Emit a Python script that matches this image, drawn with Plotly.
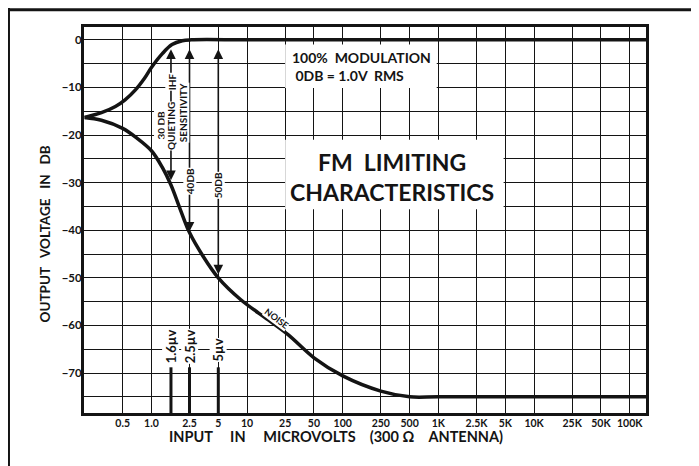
import math
import plotly.graph_objects as go

# ---------------- data ----------------
x_tick_vals = [0.5, 1.0, 2.5, 5, 10, 25, 50, 100, 250, 500, 1000, 2500, 5000,
               10000, 25000, 50000, 100000]
x_tick_text = ["0.5", "1.0", "2.5", "5", "10", "25", "50", "100", "250", "500",
               "1K", "2.5K", "5K", "10K", "25K", "50K", "100K"]
y_grid_vals = list(range(-75, 1, 5))
y_tick_text = ["0" if v == 0 else ("\u2212" + str(-v) if v % 10 == 0 else "")
               for v in y_grid_vals]

signal_uv = [0.2, 0.3, 0.42, 0.53, 0.68, 0.85, 1.0, 1.3, 1.64, 2.1, 2.6, 10,
             100, 1000, 10000, 100000, 150000]
signal_db = [-16.3, -15.3, -14.0, -12.6, -10.5, -8.0, -5.8, -2.9, -1.0, -0.2,
             0.0, 0.0, 0.0, 0.0, 0.0, 0.0, 0.0]

noise_uv = [0.2, 0.3, 0.5, 0.7, 1.0, 1.3, 1.6, 2.0, 2.5, 3.4, 5, 8.6, 16.5,
            27, 50, 100, 250, 500, 1000, 10000, 100000, 150000]
noise_db = [-16.3, -16.9, -18.6, -20.6, -23.3, -26.8, -30.5, -35.6, -40.5,
            -45.2, -50.0, -54.6, -58.8, -62.0, -66.8, -70.6, -73.8, -75.0,
            -75.0, -75.0, -75.0, -75.0]

marker_uv = [1.6, 2.5, 5]
marker_labels = ["1.6\u00b5v", "2.5\u00b5v", "5\u00b5v"]
marker_top_db = -68.8

quieting_uv = [1.6, 2.5, 5]
quieting_db = [-30, -40, -50]

# ---------------- figure ----------------
FONT = "Lato, 'DejaVu Sans', Arial, sans-serif"
INK = "#141414"
XR = [-0.705, 5.17]
YR = [-78.4, 2.7]
NB = "\u00a0"

fig = go.Figure()

fig.add_trace(go.Scatter(x=signal_uv, y=signal_db, mode="lines",
                         line=dict(color=INK, width=3.5, shape="spline", smoothing=1.0),
                         hoverinfo="skip", showlegend=False))
fig.add_trace(go.Scatter(x=noise_uv, y=noise_db, mode="lines",
                         line=dict(color=INK, width=3.5, shape="spline", smoothing=1.0),
                         hoverinfo="skip", showlegend=False))

bx, by = [], []
for u in marker_uv:
    bx += [u, u, None]
    by += [YR[0], marker_top_db, None]
fig.add_trace(go.Scatter(x=bx, y=by, mode="lines", line=dict(color=INK, width=3),
                         hoverinfo="skip", showlegend=False))

shapes = []
# white label boxes
shapes.append(dict(type="rect", xref="x", yref="y", x0=25, x1=960, y0=-1.0, y1=-10.1,
                   fillcolor="white", line=dict(width=0), layer="above"))
shapes.append(dict(type="rect", xref="x", yref="y", x0=25, x1=4800, y0=-21.0, y1=-35.6,
                   fillcolor="white", line=dict(width=0), layer="above"))
# page decorations (scan frame)
shapes.append(dict(type="line", xref="paper", yref="paper", x0=-0.14, x1=1.1,
                   y0=1.045, y1=1.045, line=dict(color=INK, width=3)))
shapes.append(dict(type="line", xref="paper", yref="paper", x0=-0.1335, x1=-0.1335,
                   y0=1.05, y1=-0.14, line=dict(color=INK, width=2)))
shapes.append(dict(type="line", xref="paper", yref="paper", x0=1.087, x1=1.087,
                   y0=1.04, y1=-0.14, line=dict(color="#e4e4e4", width=1)))

ann = []
# double-headed quieting arrows
arrow_tip_offset = [0.2, -0.6, 0.4]
for u, d, off in zip(quieting_uv, quieting_db, arrow_tip_offset):
    lx = math.log10(u)
    ann.append(dict(x=lx, y=-2.0, ax=lx, ay=d + off, xref="x", yref="y",
                    axref="x", ayref="y", text="", showarrow=True,
                    arrowhead=2, arrowside="end+start", arrowsize=1.2,
                    arrowwidth=1.6, arrowcolor=INK))

def rot_label(text, lx, y, size=10):
    return dict(x=lx, y=y, xref="x", yref="y", text="<b>" + text + "</b>",
                showarrow=False, textangle=-90, bgcolor="white", borderpad=0,
                font=dict(family=FONT, size=size, color=INK),
                xanchor="center", yanchor="middle")

ann.append(rot_label("30" + NB + "DB", 0.090, -18.0))
ann.append(rot_label("QUIETING", 0.210, -18.2))
ann.append(rot_label("IHF", 0.210, -8.8))
ann.append(rot_label("SENSITIVITY", 0.330, -15.4))
ann.append(rot_label("40DB", math.log10(2.5), -29.8))
ann.append(rot_label("50DB", math.log10(5), -30.5))

label_centers = [-64.4, -64.5, -65.2]
for u, t, yc in zip(marker_uv, marker_labels, label_centers):
    ann.append(dict(x=math.log10(u), y=yc, xref="x", yref="y",
                    text="<b>" + t + "</b>", showarrow=False, textangle=-90,
                    bgcolor="white", borderpad=0,
                    font=dict(family=FONT, size=13, color=INK),
                    xanchor="center", yanchor="middle"))

ann.append(dict(x=math.log10(20.5), y=-58.6, xref="x", yref="y", text="<b>NOISE</b>",
                showarrow=False, textangle=37, bgcolor="white", borderpad=0,
                font=dict(family=FONT, size=9, color=INK)))

ann.append(dict(x=math.log10(28), y=-5.5, xref="x", yref="y",
                text="<b>100%" + NB * 2 + "MODULATION</b><br><b>" + NB + "0DB" + NB + "=" + NB
                     + "1.0V" + NB * 2 + "RMS</b>",
                showarrow=False, align="left", xanchor="left", yanchor="middle",
                font=dict(family=FONT, size=14, color=INK)))
ann.append(dict(x=math.log10(331), y=-28.9, xref="x", yref="y",
                text="<b>FM" + NB * 2 + "LIMITING</b><br><b>CHARACTERISTICS</b>",
                showarrow=False, align="center", xanchor="center", yanchor="middle",
                font=dict(family=FONT, size=23, color=INK)))

# axis titles
ann.append(dict(x=-0.069, y=0.463, xref="paper", yref="paper", textangle=-90,
                xanchor="center", yanchor="middle",
                text="<b>OUTPUT" + NB * 3 + "VOLTAGE" + NB * 3 + "IN" + NB * 3 + "DB</b>",
                showarrow=False, font=dict(family=FONT, size=13.5, color=INK)))
ann.append(dict(x=0.4485, y=-0.0596, xref="paper", yref="paper",
                xanchor="center", yanchor="middle",
                text="<b>INPUT" + NB * 5 + "IN" + NB * 5 + "MICROVOLTS" + NB * 4 + "(300"
                     + NB + "\u03a9" + NB * 4 + "ANTENNA)</b>",
                showarrow=False, font=dict(family=FONT, size=14.5, color=INK)))

fig.update_layout(
    width=691, height=458,
    margin=dict(l=76, r=53, t=19, b=53, autoexpand=False),
    paper_bgcolor="white", plot_bgcolor="white",
    shapes=shapes, annotations=ann, showlegend=False,
    font=dict(family=FONT, color=INK),
    xaxis=dict(type="log", range=XR, tickmode="array", tickvals=x_tick_vals,
               ticktext=["<b>" + t + "</b>" for t in x_tick_text],
               tickfont=dict(family=FONT, size=10.5, color=INK), tickangle=0,
               ticklabelstandoff=-2,
               showgrid=True, gridcolor=INK, gridwidth=1.3, automargin=False,
               showline=True, linecolor=INK, linewidth=3, mirror=True,
               ticks="", zeroline=False, fixedrange=True),
    yaxis=dict(range=YR, tickmode="array", tickvals=y_grid_vals,
               ticktext=["<b>" + t + "</b>" for t in y_tick_text],
               tickfont=dict(family=FONT, size=11.5, color=INK), automargin=False,
               ticklabelstandoff=-3,
               showgrid=True, gridcolor=INK, gridwidth=1.3,
               showline=True, linecolor=INK, linewidth=3, mirror=True,
               ticks="", zeroline=False, fixedrange=True),
)

fig.write_html("out.html")
